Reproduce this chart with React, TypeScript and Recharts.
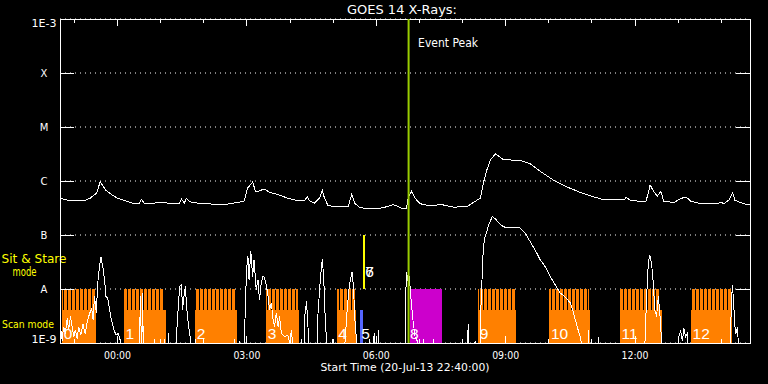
import React from 'react';
import { ComposedChart, Line, XAxis, YAxis, CartesianGrid, ReferenceArea, ReferenceLine } from 'recharts';

const FONT = '"DejaVu Sans", sans-serif';
const NUM_FONT = '"Liberation Sans", Arial, sans-serif';
const PLOT = { left: 60, right: 750, top: 19, bottom: 343 };
const ORANGE = '#ff8000';
const MAGENTA = '#cc00cc';
const BLUE = '#5566ff';
const YELLOW = '#ffff00';
const GREEN = '#99cc00';

// time axis: minutes after start (20-Jul-13 22:40:00)
const xDomain = [0, 960];
const hourTicks = [20, 80, 140, 200, 260, 320, 380, 440, 500, 560, 620, 680, 740, 800, 860, 920];
const majorTicks = [80, 260, 440, 620, 800];
const majorLabels = ['00:00', '03:00', '06:00', '09:00', '12:00'];

// flux axis (W/m^2), log
const yDomain = [1e-9, 1e-3];
const yTicks = [1e-9, 1e-8, 1e-7, 1e-6, 1e-5, 1e-4, 1e-3];
const yTickLabels = ['1E-9', 'A', 'B', 'C', 'M', 'X', '1E-3'];

// 1-8 A channel
const longTime = [
  0, 14, 33, 42, 51, 56, 63, 70, 80, 89,
  100, 110, 113, 118, 131, 145, 154, 166, 169, 173,
  176, 181, 191, 210, 228, 247, 256, 261, 268, 272,
  275, 284, 292, 303, 317, 331, 340, 344, 347, 354,
  361, 365, 368, 373, 387, 401, 406, 410, 417, 429,
  447, 457, 464, 475, 482, 485, 489, 494, 501, 513,
  531, 550, 557, 566, 575, 585, 589, 594, 599, 606,
  617, 640, 654, 668, 687, 706, 724, 743, 757, 785,
  788, 794, 815, 818, 821, 826, 831, 836, 840, 854,
  864, 871, 878, 892, 910, 920, 924, 931, 936, 939,
  947, 956, 960,
];
const longFlux = [
  4.8e-7, 4.3e-7, 4.3e-7, 4.8e-7, 6.0e-7, 9.8e-7, 6.9e-7, 5.8e-7, 4.8e-7, 4.4e-7,
  3.9e-7, 3.75e-7, 4.6e-7, 3.75e-7, 3.9e-7, 4.0e-7, 3.8e-7, 3.9e-7, 4.6e-7, 3.9e-7,
  4.8e-7, 4.1e-7, 3.9e-7, 3.75e-7, 3.65e-7, 4.0e-7, 4.2e-7, 7.4e-7, 9.6e-7, 6.4e-7,
  6.4e-7, 7.1e-7, 6.15e-7, 5.6e-7, 4.8e-7, 4.3e-7, 4.3e-7, 5.05e-7, 4.3e-7, 3.9e-7,
  4.8e-7, 6.7e-7, 4.8e-7, 3.5e-7, 3.3e-7, 3.4e-7, 5.7e-7, 3.9e-7, 3.2e-7, 3.1e-7,
  3.16e-7, 3.4e-7, 3.65e-7, 3.16e-7, 3.16e-7, 5.2e-7, 6.4e-7, 4.8e-7, 3.8e-7, 3.5e-7,
  3.65e-7, 3.24e-7, 3.4e-7, 3.3e-7, 4.0e-7, 4.84e-7, 9.2e-7, 1.62e-6, 2.48e-6, 3.2e-6,
  2.48e-6, 2.41e-6, 2.09e-6, 1.51e-6, 1.03e-6, 7.7e-7, 6.15e-7, 5.05e-7, 4.5e-7, 4.5e-7,
  5.0e-7, 4.3e-7, 4.2e-7, 5.6e-7, 8.5e-7, 6.4e-7, 5.2e-7, 6.4e-7, 4.2e-7, 4.0e-7,
  4.76e-7, 5.05e-7, 4.2e-7, 3.8e-7, 3.75e-7, 4.0e-7, 3.8e-7, 4.5e-7, 6.0e-7, 4.4e-7,
  4.0e-7, 3.65e-7, 3.65e-7,
];

// 0.5-4 A channel (values under 1E-9 sit below the axis floor)
const shortTime = [
  0, 3, 5, 7.5, 10, 12, 14.5, 17, 19, 21.5,
  24, 26, 29, 32, 35, 38.5, 41.5, 44, 46, 48,
  50.5, 52.5, 55, 57, 59.5, 62, 64, 66.5, 69, 71.5,
  75, 78, 81, 84, 86.5, 110, 112, 113.5, 115, 116,
  130, 131, 132, 144, 145, 146, 150, 151, 152, 160,
  162, 164, 166.5, 169, 170.5, 172.5, 174.5, 176, 178.5, 181,
  184, 188, 189, 190, 242, 243, 244, 248.5, 249.5, 250.5,
  256, 257.5, 259.5, 261.5, 263, 265.5, 268, 270, 273, 275.5,
  277.5, 280, 282.5, 284.5, 287, 289.5, 291.5, 294, 296.5, 298.5,
  301, 303.5, 305.5, 308, 312.5, 317, 319.5, 322, 325.5, 335,
  336, 337, 339.5, 340.5, 343, 345, 347.5, 357, 359, 361.5,
  363.5, 365, 367, 368.5, 370.5, 373, 378, 379, 380, 395,
  397, 399.5, 402, 404, 406.5, 408.5, 410, 412.5, 415, 430,
  431, 432.5, 436, 437, 439, 442, 443, 444, 480, 481,
  482, 484, 486, 488, 491, 494, 497, 500, 504, 505.5,
  507, 519, 520, 521.5, 566, 568, 569.5, 576.5, 577.5, 578.5,
  584, 585.5, 587.5, 589, 591.5, 594, 596, 598.5, 601.5, 605.5,
  610, 614.5, 621.5, 631, 640, 647, 654, 661, 668, 675,
  682, 689, 696, 703, 710, 714.5, 719.5, 724, 728.5, 734.5,
  735.5, 736.5, 748.5, 749.5, 750.5, 813, 816, 818.5, 820.5, 823,
  825.5, 827.5, 830, 832.5, 834.5, 837, 839, 858, 861, 863.5,
  866, 868, 870.5, 873, 875, 932, 934, 935.5, 937, 939,
  940.5, 942.5, 945, 960,
];
const shortFlux = [
  2.5e-9, 1.1e-9, 2.0e-9, 1.5e-9, 2.9e-9, 1.76e-9, 3.1e-9, 2.0e-9, 1.3e-9, 1.76e-9,
  1.2e-9, 2.0e-9, 1.4e-9, 2.2e-9, 1.5e-9, 2.7e-9, 3.6e-9, 4.4e-9, 2.7e-9, 7.3e-9,
  3.6e-9, 1.29e-8, 2.6e-8, 3.9e-8, 2.6e-8, 1.49e-8, 7.3e-9, 6.8e-9, 4.1e-9, 2.7e-9,
  1.76e-9, 1.4e-9, 1.5e-9, 1.1e-9, 5e-10, 5e-10, 7.3e-9, 5e-10, 8.4e-9, 5e-10,
  5e-10, 1.2e-9, 5e-10, 5e-10, 1.2e-9, 5e-10, 5e-10, 1.5e-9, 5e-10, 5e-10,
  1.3e-9, 3.6e-9, 1.12e-8, 1.2e-8, 4.1e-9, 7.3e-9, 1.12e-8, 4.8e-9, 2.3e-9, 1.3e-9,
  5e-10, 5e-10, 1.2e-9, 5e-10, 5e-10, 1.2e-9, 5e-10, 5e-10, 1.1e-9, 5e-10,
  5e-10, 3.1e-9, 2.3e-8, 4.0e-8, 1.49e-8, 5.0e-8, 1.7e-8, 3.5e-8, 9.7e-9, 1.49e-8,
  6.3e-9, 1.29e-8, 1.76e-8, 1.6e-8, 1.2e-8, 7.3e-9, 4.1e-9, 5.5e-9, 2.7e-9, 2.0e-9,
  3.6e-9, 2.0e-9, 3.1e-9, 1.5e-9, 1.3e-9, 1.4e-9, 1.0e-9, 1.76e-9, 5e-10, 5e-10,
  1.2e-9, 5e-10, 5e-10, 3.1e-9, 5.9e-9, 2.0e-9, 5e-10, 5e-10, 3.6e-9, 1.12e-8,
  2.3e-8, 3.6e-8, 1.49e-8, 4.1e-9, 1.3e-9, 5e-10, 5e-10, 1.2e-9, 5e-10, 5e-10,
  1.3e-9, 4.1e-9, 9.7e-9, 1.49e-8, 2.1e-8, 9.7e-9, 3.1e-9, 1.1e-9, 5e-10, 5e-10,
  1.2e-9, 5e-10, 5e-10, 1.5e-9, 5e-10, 5e-10, 1.76e-9, 5e-10, 5e-10, 7.3e-9,
  2.1e-8, 1.4e-8, 1.7e-8, 7.3e-9, 2.7e-9, 1.3e-9, 1.1e-9, 5e-10, 5e-10, 1.2e-9,
  5e-10, 5e-10, 1.2e-9, 5e-10, 5e-10, 2.2e-9, 5e-10, 5e-10, 1.1e-9, 5e-10,
  5e-10, 4.1e-9, 2.0e-8, 6.1e-8, 9.4e-8, 1.17e-7, 1.49e-7, 1.79e-7, 2.2e-7, 2.0e-7,
  1.72e-7, 1.49e-7, 1.35e-7, 1.4e-7, 1.35e-7, 1.09e-7, 7.6e-8, 5.3e-8, 3.5e-8, 2.6e-8,
  1.7e-8, 1.2e-8, 8.4e-9, 7.1e-9, 5.5e-9, 3.6e-9, 2.0e-9, 1.3e-9, 5e-10, 5e-10,
  1.76e-9, 5e-10, 5e-10, 1.3e-9, 5e-10, 5e-10, 6.3e-9, 3.0e-8, 4.3e-8, 3.0e-8,
  1.29e-8, 4.1e-9, 3.1e-9, 7.3e-9, 3.6e-9, 1.1e-9, 5e-10, 5e-10, 1.3e-9, 1.64e-9,
  1.1e-9, 1.9e-9, 1.3e-9, 1.5e-9, 5e-10, 5e-10, 4.8e-9, 1.2e-8, 6.3e-9, 2.0e-9,
  1.5e-9, 2.0e-9, 5e-10, 5e-10,
];

// SXI observing events (minutes after start)
const scanStart = [3, 89, 188, 287, 385, 582, 681, 779, 878];
const scanEnd = [50, 147, 246, 333, 412, 635, 738, 837, 935];
const scanIds = ['0', '1', '2', '3', '4', '9', '10', '11', '12'];
const SCAN_LEVEL = 4.1e-9;
const STRIPE_LEVEL = 1e-8;
const blueStart = [417];
const blueEnd = [421];
const blueIds = ['5'];
const stareStart = [422];
const stareEnd = [425];
const stareIds = ['6', '7'];
const STARE_LOW = 1e-8;
const STARE_HIGH = 1e-7;
const magStart = [487];
const magEnd = [531];
const magIds = ['8'];
const eventPeak = 485;

const longData = longTime.map((t, i) => ({ t, v: longFlux[i] }));
const shortData = shortTime.map((t, i) => ({ t, v: shortFlux[i] }));

const XTick = (props: any) => {
  const { x, payload } = props;
  const mi = majorTicks.indexOf(payload.value);
  const len = mi >= 0 ? 7 : 4;
  return (
    <g>
      <line x1={x} x2={x} y1={PLOT.top} y2={PLOT.top + len} stroke="#fff" shapeRendering="crispEdges" />
      <line x1={x} x2={x} y1={PLOT.bottom} y2={PLOT.bottom - len} stroke="#fff" shapeRendering="crispEdges" />
      {mi >= 0 && (
        <text x={x} y={359} textAnchor="middle" fill="#fff" fontSize={10} fontFamily={FONT} textLength={27} lengthAdjust="spacingAndGlyphs">
          {majorLabels[mi]}
        </text>
      )}
    </g>
  );
};

const YTick = (props: any) => {
  const { y, payload } = props;
  const i = yTicks.indexOf(payload.value);
  const last = yTicks.length - 1;
  const inner = i > 0 && i < last;
  const dy = i === 0 ? -4 : i === last ? 4 : 0;
  const lbl = yTickLabels[i];
  return (
    <g>
      {inner && <line x1={PLOT.left} x2={PLOT.left + 14} y1={y} y2={y} stroke="#fff" shapeRendering="crispEdges" />}
      {inner && <line x1={PLOT.right - 14} x2={PLOT.right} y1={y} y2={y} stroke="#fff" shapeRendering="crispEdges" />}
      <text
        x={44}
        y={y + dy + 3.6}
        textAnchor="middle"
        fill="#ffffff"
        stroke="none"
        fontSize={10}
        fontFamily={FONT}
        {...(lbl.length > 1 ? { textLength: 25, lengthAdjust: 'spacingAndGlyphs' } : {})}
      >
        {lbl}
      </text>
    </g>
  );
};

const areaLabel = (texts: string[], color: string, dx: number, lift: number) => (props: any) => {
  const vb = props.viewBox || { x: 0, y: 0, width: 0, height: 0 };
  return (
    <g>
      {texts.map((s) => (
        <text key={s} x={vb.x + dx} y={vb.y + vb.height - lift} fill={color} fontSize={15.5} fontFamily={NUM_FONT}>
          {s}
        </text>
      ))}
    </g>
  );
};

const peakLabel = (props: any) => {
  const vb = props.viewBox || { x: 0, y: 0 };
  return (
    <text x={vb.x + 9.5} y={vb.y + 28} fill="#fff" fontSize={12.5} fontFamily={FONT} textLength={60} lengthAdjust="spacingAndGlyphs">
      Event Peak
    </text>
  );
};

export default function App() {
  return (
    <div style={{ position: 'absolute', left: 0, top: 0, width: 768, height: 384, background: '#000', overflow: 'hidden' }}>
      <ComposedChart width={768} height={384} margin={{ top: 19, right: 18, bottom: 0, left: 0 }}>
        <defs>
          <pattern id="scanStripes" patternUnits="userSpaceOnUse" x={0} y={0} width={4} height={8}>
            <rect x={0} y={0} width={3} height={8} fill={ORANGE} />
          </pattern>
        </defs>
        <CartesianGrid horizontal vertical={false} stroke="#fff" strokeDasharray="1 4" />
        <XAxis
          dataKey="t"
          type="number"
          domain={xDomain}
          ticks={hourTicks}
          interval={0}
          allowDataOverflow
          axisLine={false}
          tickLine={false}
          tick={<XTick />}
          height={41}
        />
        <YAxis
          type="number"
          scale="log"
          domain={yDomain}
          ticks={yTicks}
          interval={0}
          allowDataOverflow
          axisLine={false}
          tickLine={false}
          tick={<YTick />}
          width={60}
        />
        <ReferenceArea x1={xDomain[0]} x2={xDomain[1]} y1={yDomain[0]} y2={yDomain[1]} fill="none" stroke="#fff" strokeWidth={1} shapeRendering="crispEdges" />
        {scanStart.map((s, i) => (
          <ReferenceArea
            key={'stripe' + i}
            x1={s}
            x2={scanEnd[i] - 2}
            y1={SCAN_LEVEL}
            y2={STRIPE_LEVEL}
            fill="url(#scanStripes)"
            fillOpacity={1}
            stroke="none"
            shapeRendering="crispEdges"
          />
        ))}
        {scanStart.map((s, i) => (
          <ReferenceArea
            key={'scan' + i}
            x1={s}
            x2={scanEnd[i]}
            y1={yDomain[0]}
            y2={SCAN_LEVEL}
            fill={ORANGE}
            fillOpacity={1}
            stroke="none"
            shapeRendering="crispEdges"
            label={areaLabel([scanIds[i]], '#fff', 1.5, 4.5)}
          />
        ))}
        {blueStart.map((s, i) => (
          <ReferenceArea
            key={'blue' + i}
            x1={s}
            x2={blueEnd[i]}
            y1={yDomain[0]}
            y2={SCAN_LEVEL}
            fill={BLUE}
            fillOpacity={1}
            stroke="none"
            shapeRendering="crispEdges"
            label={areaLabel([blueIds[i]], '#fff', 1.5, 4.5)}
          />
        ))}
        {stareStart.map((s, i) => (
          <ReferenceArea
            key={'stare' + i}
            x1={s}
            x2={stareEnd[i]}
            y1={STARE_LOW}
            y2={STARE_HIGH}
            fill={YELLOW}
            fillOpacity={1}
            stroke="none"
            shapeRendering="crispEdges"
            label={areaLabel(stareIds, '#fff', 2, 12)}
          />
        ))}
        {magStart.map((s, i) => (
          <ReferenceArea
            key={'mag' + i}
            x1={s}
            x2={magEnd[i]}
            y1={yDomain[0]}
            y2={STRIPE_LEVEL}
            fill={MAGENTA}
            fillOpacity={1}
            stroke="none"
            shapeRendering="crispEdges"
            label={areaLabel([magIds[i]], '#fff', 0, 4.5)}
          />
        ))}
        <Line data={longData} dataKey="v" type="linear" stroke="#fff" strokeWidth={1} dot={false} activeDot={false} isAnimationActive={false} shapeRendering="crispEdges" />
        <Line data={shortData} dataKey="v" type="linear" stroke="#fff" strokeWidth={1} dot={false} activeDot={false} isAnimationActive={false} shapeRendering="crispEdges" />
        <ReferenceLine x={eventPeak} stroke={GREEN} strokeWidth={2} label={peakLabel} />
        <text x={402} y={14} textAnchor="middle" fill="#fff" fontSize={12.5} fontFamily={FONT} textLength={110} lengthAdjust="spacingAndGlyphs">
          GOES 14 X-Rays:
        </text>
        <text x={405} y={371} textAnchor="middle" fill="#fff" fontSize={10} fontFamily={FONT} textLength={169} lengthAdjust="spacingAndGlyphs">
          Start Time (20-Jul-13 22:40:00)
        </text>
        <text x={34} y={263} textAnchor="middle" fill={YELLOW} fontSize={11.5} fontFamily={FONT} textLength={65} lengthAdjust="spacingAndGlyphs">
          Sit &amp; Stare
        </text>
        <text x={24.5} y={276} textAnchor="middle" fill={YELLOW} fontSize={11.5} fontFamily={FONT} textLength={24} lengthAdjust="spacingAndGlyphs">
          mode
        </text>
        <text x={28} y={328} textAnchor="middle" fill={YELLOW} fontSize={10} fontFamily={FONT} textLength={52} lengthAdjust="spacingAndGlyphs">
          Scan mode
        </text>
      </ComposedChart>
    </div>
  );
}
